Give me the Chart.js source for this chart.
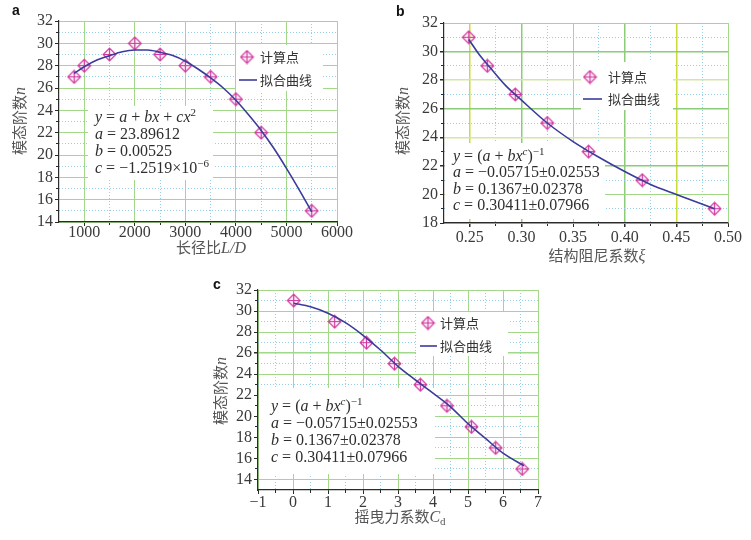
<!DOCTYPE html>
<html>
<head>
<meta charset="utf-8">
<script src="https://cdn.jsdelivr.net/npm/chart.js@4.4.1/dist/chart.umd.min.js"></script>
<style>
  body { margin: 0; width: 751px; height: 540px; background: #fff; position: relative; overflow: hidden; }
  canvas { position: absolute; }
  .lbl { position: absolute; font: bold 14px Arial, "Liberation Sans", sans-serif; color: #111; line-height: 14px; }
  .ttl { position: absolute; font: 15px "Noto Sans CJK SC"; color: #555; white-space: nowrap; line-height: 1; }
  .ttl i { font: italic 16px "Liberation Serif"; }
  .ttl sub { font: 11px "Liberation Serif"; vertical-align: -3px; }
  .yt { transform: translate(-50%, -50%) rotate(-90deg); }
  .xt { transform: translate(-50%, -50%); }
</style>
</head>
<body>
<canvas id="chartA" width="370" height="262" style="left:0;top:0"></canvas>
<canvas id="chartB" width="381" height="270" style="left:370px;top:0"></canvas>
<canvas id="chartC" width="360" height="270" style="left:200px;top:270px"></canvas>

<div class="lbl" style="left:12px;top:3px">a</div>
<div class="lbl" style="left:396px;top:4px">b</div>
<div class="lbl" style="left:213px;top:277px">c</div>

<div class="ttl yt" style="left:20px;top:121px">模态阶数<i>n</i></div>
<div class="ttl xt" style="left:211px;top:248px">长径比<i>L</i><i>/</i><i>D</i></div>
<div class="ttl yt" style="left:403px;top:121px">模态阶数<i>n</i></div>
<div class="ttl xt" style="left:597px;top:256px">结构阻尼系数<i>ξ</i></div>
<div class="ttl yt" style="left:221px;top:391px">模态阶数<i>n</i></div>
<div class="ttl xt" style="left:400px;top:517px">摇曳力系数<i>C</i><sub>d</sub></div>

<script>
// panel a: 长径比 L/D
const aCalcX = [800, 1000, 1500, 2000, 2500, 3000, 3500, 4000, 4500, 5500];
const aCalcN = [27, 28, 29, 30, 29, 28, 27, 25, 22, 15];
const aFitX = [800, 1000, 1250, 1500, 1750, 2000, 2250, 2500, 2750, 3000, 3250, 3500, 3750, 4000, 4250, 4500, 4750, 5000, 5250, 5500];
const aFitN = [27.3, 27.9, 28.5, 28.9, 29.25, 29.4, 29.4, 29.2, 28.9, 28.4, 27.7, 26.9, 26.0, 24.9, 23.6, 22.2, 20.6, 18.8, 16.9, 14.9];
const aTickX = [1000, 2000, 3000, 4000, 5000, 6000];
const aMinorX = [1500, 2500, 3500, 4500, 5500];
const aTickY = [14, 16, 18, 20, 22, 24, 26, 28, 30, 32];
const aMinorY = [15, 17, 19, 21, 23, 25, 27, 29, 31];

// panel b: 结构阻尼系数 ξ
const bCalcX = [0.249, 0.267, 0.294, 0.325, 0.365, 0.417, 0.487];
const bCalcN = [31, 29, 27, 25, 23, 21, 19];
const bFitX = [0.249, 0.26, 0.27, 0.285, 0.30, 0.325, 0.35, 0.375, 0.40, 0.425, 0.45, 0.487];
const bFitN = [30.85, 29.7, 28.85, 27.6, 26.6, 25.0, 23.7, 22.6, 21.6, 20.7, 20.0, 19.0];
const bTickX = [0.25, 0.30, 0.35, 0.40, 0.45, 0.50];
const bMinorX = [0.275, 0.325, 0.375, 0.425, 0.475];
const bTickY = [18, 20, 22, 24, 26, 28, 30, 32];
const bMinorY = [19, 21, 23, 25, 27, 29, 31];

// panel c: 摇曳力系数 Cd
const cCalcX = [0.02, 1.19, 2.1, 2.9, 3.64, 4.4, 5.1, 5.79, 6.55];
const cCalcN = [31, 29, 27, 25, 23, 21, 19, 17, 15];
const cFitX = [0.02, 0.5, 1.0, 1.5, 2.0, 2.5, 3.0, 3.5, 4.0, 4.5, 5.0, 5.5, 6.0, 6.6];
const cFitN = [30.75, 30.4, 29.8, 28.9, 27.7, 26.3, 24.75, 23.45, 22.2, 20.9, 19.3, 17.9, 16.5, 15.3];
const cTickX = [-1, 0, 1, 2, 3, 4, 5, 6, 7];
const cMinorX = [-0.5, 0.5, 1.5, 2.5, 3.5, 4.5, 5.5, 6.5];
const cTickY = [14, 16, 18, 20, 22, 24, 26, 28, 30, 32];
const cMinorY = [15, 17, 19, 21, 23, 25, 27, 29, 31];

const legendLabels = ['计算点', '拟合曲线'];

// fit equations, runs of [text, style]: i italic, r roman, s superscript, si superscript italic
const eqA = [
    [['y', 'i'], [' = ', 'r'], ['a', 'i'], [' + ', 'r'], ['bx', 'i'], [' + ', 'r'], ['cx', 'i'], ['2', 's']],
    [['a', 'i'], [' = 23.89612', 'r']],
    [['b', 'i'], [' = 0.00525', 'r']],
    [['c', 'i'], [' = −1.2519×10', 'r'], ['−6', 's']]
];
const eqBC = [
    [['y', 'i'], [' = (', 'r'], ['a', 'i'], [' + ', 'r'], ['bx', 'i'], ['c', 'si'], [')', 'r'], ['−1', 's']],
    [['a', 'i'], [' = −0.05715±0.02553', 'r']],
    [['b', 'i'], [' = 0.1367±0.02378', 'r']],
    [['c', 'i'], [' = 0.30411±0.07966', 'r']]
];

const GRID = '#a3d78a';
const MINOR = '#96cfe8';
const AXIS = '#2b2b2b';
const TICK = '#3a3a3a';
const CURVE = '#3b3b9c';
const MARK = '#d2399f';
const SERIF = '"Liberation Serif", "DejaVu Serif", serif';

// odd-coloured grid lines seen in panel b and c
const bGridX = { '0.25': '#c9dc3a', '0.3': '#8ccb78', '0.4': '#8ccb78', '0.45': '#c9dc3a' };
const bGridY = { '28': '#d3e6a6', '24': '#d3e6a6', '30': '#8ccb78', '26': '#8ccb78', '22': '#8ccb78' };
const cGridY = { '26': '#9fd88a' };

function makeMarker() {
    const c = document.createElement('canvas');
    c.width = 15;
    c.height = 15;
    const g = c.getContext('2d');
    g.strokeStyle = MARK;
    g.fillStyle = 'rgba(232, 170, 215, 0.15)';
    g.lineWidth = 1.2;
    g.beginPath();
    g.moveTo(7.5, 1.2); g.lineTo(13.8, 7.5); g.lineTo(7.5, 13.8); g.lineTo(1.2, 7.5); g.closePath();
    g.fill();
    g.moveTo(7.5, 1.2); g.lineTo(7.5, 13.8);
    g.moveTo(1.2, 7.5); g.lineTo(13.8, 7.5);
    g.stroke();
    return c;
}
const MARKER = makeMarker();

function drawRuns(ctx, x, y, runs) {
    runs.forEach(([t, s]) => {
        const sup = s[0] === 's';
        const it = s.indexOf('i') >= 0;
        ctx.font = (it ? 'italic ' : '') + (sup ? '11px ' : '16px ') + SERIF;
        ctx.fillText(t, x, sup ? y - 6 : y);
        x += ctx.measureText(t).width;
    });
}

// white boxes with the fit equation and the legend, drawn over the grid but under the marks
const boxPlugin = {
    id: 'boxes',
    beforeDatasetsDraw(chart, args, o) {
        const ctx = chart.ctx;
        ctx.save();
        ctx.fillStyle = '#fff';
        o.rects.forEach(r => ctx.fillRect(r[0], r[1], r[2], r[3]));

        ctx.fillStyle = '#2e2e2e';
        ctx.textBaseline = 'alphabetic';
        o.eq.lines.forEach((runs, i) => drawRuns(ctx, o.eq.x, o.eq.y + i * o.eq.step, runs));

        const lg = o.legend;
        ctx.drawImage(MARKER, lg.mx - 7.5, lg.my - 7.5);
        ctx.strokeStyle = CURVE;
        ctx.lineWidth = 1.6;
        ctx.beginPath();
        ctx.moveTo(lg.lx1, lg.ly);
        ctx.lineTo(lg.lx2, lg.ly);
        ctx.stroke();
        ctx.fillStyle = '#333';
        ctx.font = '13px "Noto Sans CJK SC"';
        ctx.textBaseline = 'middle';
        ctx.fillText(legendLabels[0], lg.tx, lg.my);
        ctx.fillText(legendLabels[1], lg.tx, lg.ly);
        ctx.restore();
    }
};

function majorAxis(pos, min, max, ticks, size, pad, fmt, colors) {
    return {
        type: 'linear', position: pos, min: min, max: max, weight: 1,
        afterBuildTicks: s => { s.ticks = ticks.map(v => ({ value: v })); },
        afterFit: s => { if (pos === 'left') s.width = size; else s.height = size; },
        grid: {
            color: c => (colors && c.tick && colors[String(c.tick.value)]) || GRID,
            lineWidth: c => (colors && c.tick && colors[String(c.tick.value)]) ? 1.5 : 1,
            drawTicks: true, tickLength: 4, tickColor: AXIS
        },
        border: { color: AXIS, width: 1.2 },
        ticks: {
            color: TICK, padding: pad, maxRotation: 0, autoSkip: false,
            font: { family: SERIF, size: 16 },
            callback: fmt
        }
    };
}

function minorAxis(pos, min, max, ticks) {
    return {
        type: 'linear', position: pos, min: min, max: max, weight: 0,
        afterBuildTicks: s => { s.ticks = ticks.map(v => ({ value: v })); },
        afterFit: s => { if (pos === 'left') s.width = 0; else s.height = 0; },
        grid: { color: MINOR, lineWidth: 1, drawTicks: true, tickLength: 3, tickColor: AXIS },
        border: { display: false, dash: [1, 2] },
        ticks: { display: false }
    };
}

function points(xs, ys) {
    return xs.map((x, i) => ({ x: x, y: ys[i] }));
}

function makeChart(id, p) {
    return new Chart(document.getElementById(id), {
        type: 'scatter',
        data: {
            datasets: [
                {
                    label: legendLabels[0],
                    data: points(p.calcX, p.calcN),
                    pointStyle: MARKER,
                    pointRadius: 7,
                    showLine: false,
                    order: 1
                },
                {
                    label: legendLabels[1],
                    type: 'line',
                    data: points(p.fitX, p.fitN),
                    borderColor: CURVE,
                    borderWidth: 1.6,
                    pointRadius: 0,
                    fill: false,
                    cubicInterpolationMode: 'monotone',
                    order: 0
                }
            ]
        },
        options: {
            responsive: false,
            animation: false,
            events: [],
            layout: { padding: p.pad },
            plugins: {
                legend: { display: false },
                tooltip: { enabled: false },
                boxes: p.boxes
            },
            scales: {
                x: majorAxis('bottom', p.xMin, p.xMax, p.tickX, p.xSize, p.xPad, p.fmtX, p.gridX),
                xm: minorAxis('bottom', p.xMin, p.xMax, p.minorX),
                y: majorAxis('left', p.yMin, p.yMax, p.tickY, p.ySize, 2, v => String(v), p.gridY),
                ym: minorAxis('left', p.yMin, p.yMax, p.minorY)
            }
        },
        plugins: [boxPlugin]
    });
}

makeChart('chartA', {
    calcX: aCalcX, calcN: aCalcN, fitX: aFitX, fitN: aFitN,
    xMin: 500, xMax: 6000, tickX: aTickX, minorX: aMinorX,
    yMin: 14, yMax: 32, tickY: aTickY, minorY: aMinorY,
    pad: { top: 21, right: 33, left: 0, bottom: 0 },
    ySize: 59, xSize: 40, xPad: -3,
    fmtX: v => String(v),
    boxes: {
        rects: [[88, 106, 125, 74], [236, 45, 87, 46]],
        eq: { x: 95, y: 122, step: 17, lines: eqA },
        legend: { mx: 247, my: 57, lx1: 239, lx2: 257, ly: 80, tx: 260 }
    }
});

makeChart('chartB', {
    calcX: bCalcX, calcN: bCalcN, fitX: bFitX, fitN: bFitN,
    xMin: 0.225, xMax: 0.5, tickX: bTickX, minorX: bMinorX,
    yMin: 18, yMax: 32, tickY: bTickY, minorY: bMinorY,
    pad: { top: 23, right: 23, left: 0, bottom: 0 },
    ySize: 74, xSize: 47, xPad: 1,
    fmtX: v => v.toFixed(2),
    gridX: bGridX, gridY: bGridY,
    boxes: {
        rects: [[75, 143, 160, 76], [211, 62, 92, 48]],
        eq: { x: 83, y: 160.5, step: 16.5, lines: eqBC },
        legend: { mx: 220, my: 77, lx1: 213, lx2: 232, ly: 99, tx: 238 }
    }
});

makeChart('chartC', {
    calcX: cCalcX, calcN: cCalcN, fitX: cFitX, fitN: cFitN,
    xMin: -1, xMax: 7, tickX: cTickX, minorX: cMinorX,
    yMin: 13, yMax: 32, tickY: cTickY, minorY: cMinorY,
    pad: { top: 20, right: 22, left: 0, bottom: 0 },
    ySize: 58, xSize: 50, xPad: -1,
    fmtX: v => (v < 0 ? '−' + Math.abs(v) : String(v)),
    gridY: cGridY,
    boxes: {
        rects: [[59, 118, 176, 86], [216, 42, 92, 44]],
        eq: { x: 71, y: 141, step: 17, lines: eqBC },
        legend: { mx: 228, my: 53, lx1: 220, lx2: 237, ly: 76, tx: 240 }
    }
});
</script>
</body>
</html>
